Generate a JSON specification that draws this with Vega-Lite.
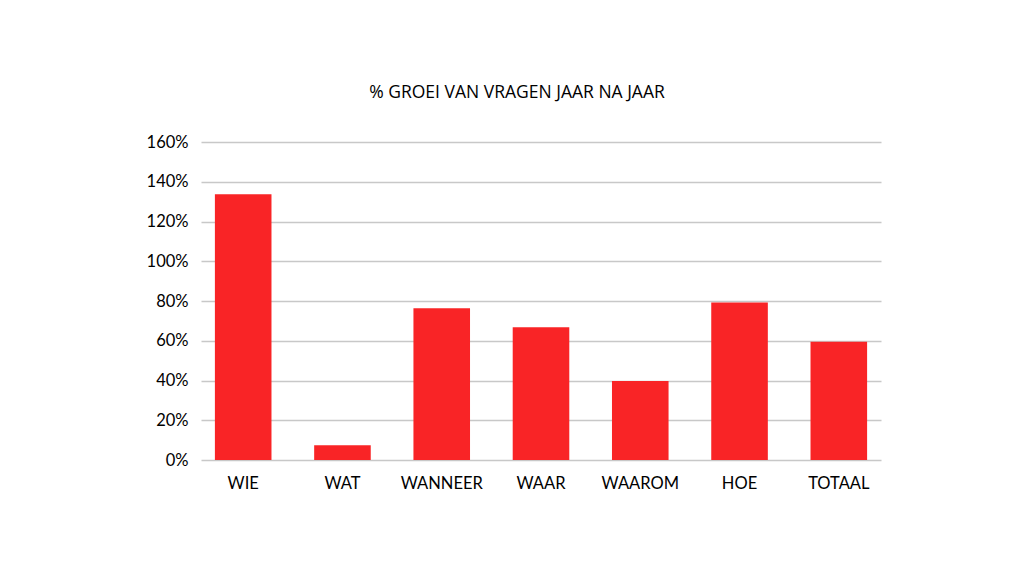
{
  "$schema": "https://vega.github.io/schema/vega-lite/v6.json",
  "autosize": {"type": "none"},
  "width": 680,
  "height": 318,
  "padding": {"left": 201, "top": 142, "right": 149, "bottom": 119},
  "background": "white",
  "title": {
    "text": "% GROEI VAN VRAGEN JAAR NA JAAR",
    "font": "Open Sans",
    "fontSize": 17.5,
    "fontWeight": "normal",
    "color": "#000000",
    "anchor": "middle",
    "dx": -24,
    "offset": 33
  },
  "data": {
    "values": [
      {"vraag": "WIE", "groei": 1.337},
      {"vraag": "WAT", "groei": 0.074},
      {"vraag": "WANNEER", "groei": 0.763},
      {"vraag": "WAAR", "groei": 0.668},
      {"vraag": "WAAROM", "groei": 0.397},
      {"vraag": "HOE", "groei": 0.792},
      {"vraag": "TOTAAL", "groei": 0.595}
    ]
  },
  "mark": {"type": "bar", "color": "#f92426"},
  "encoding": {
    "x": {
      "field": "vraag",
      "type": "nominal",
      "sort": null,
      "title": null,
      "scale": {"paddingInner": 0.43, "paddingOuter": 0.14},
      "axis": {
        "labelAngle": 0,
        "ticks": false,
        "domain": false,
        "labelFont": "Lato",
        "labelFontSize": 16.5,
        "labelColor": "#000000",
        "labelPadding": 15
      }
    },
    "y": {
      "field": "groei",
      "type": "quantitative",
      "title": null,
      "scale": {"domain": [0, 1.6], "nice": false},
      "axis": {
        "format": ".0%",
        "values": [0, 0.2, 0.4, 0.6, 0.8, 1.0, 1.2, 1.4, 1.6],
        "ticks": false,
        "domain": false,
        "grid": true,
        "gridColor": "#c8c8c8",
        "gridWidth": 1.5,
        "labelFont": "Lato",
        "labelFontSize": 16.5,
        "labelColor": "#000000",
        "labelPadding": 13
      }
    }
  },
  "config": {"view": {"stroke": null}}
}
